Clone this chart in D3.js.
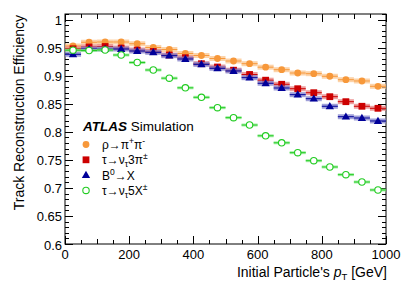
<!DOCTYPE html>
<html><head><meta charset="utf-8">
<script src="https://cdn.jsdelivr.net/npm/d3@7"></script>
<style>
html,body{margin:0;padding:0;background:#fff;}
svg text{font-family:"Liberation Sans",Arial,Helvetica,sans-serif;fill:#000;}
</style></head>
<body>
<svg id="c" width="407" height="292"></svg>
<script>
// bin centres (GeV), bin half-width 25 GeV
const binCenters = [25,75,125,175,225,275,325,375,425,475,525,575,625,675,725,775,825,875,925,975];
const rhoEff  = [0.953,0.9596,0.9601,0.9601,0.957,0.9503,0.9467,0.9396,0.936,0.9307,0.9262,0.9214,0.9152,0.9107,0.9048,0.9036,0.899,0.8929,0.8906,0.8811];
const tau3Eff = [0.948,0.9512,0.9521,0.9494,0.9458,0.9432,0.9369,0.9321,0.9214,0.9155,0.9098,0.9022,0.892,0.8847,0.8768,0.8697,0.8626,0.8537,0.8455,0.8419];
const b0Eff   = [0.9382,0.9476,0.9476,0.9476,0.944,0.9417,0.9357,0.9298,0.9203,0.9132,0.9084,0.8965,0.8865,0.8781,0.8662,0.859,0.8455,0.8269,0.8246,0.8193];
const tau5Eff = [0.9455,0.9449,0.9458,0.9369,0.9235,0.9102,0.8956,0.8784,0.8615,0.843,0.8252,0.8121,0.7929,0.7804,0.7628,0.7485,0.7373,0.7236,0.7105,0.6963];
const xTickLabels = ["0","200","400","600","800","1000"];
const yTickLabels = ["0.6","0.65","0.7","0.75","0.8","0.85","0.9","0.95","1"];

const svg = d3.select("#c");
const L=65, R=386, T=14, B=244;
const x = d3.scaleLinear().domain([0,1000]).range([L,R]);
const y = d3.scaleLinear().domain([0.6,1.01]).range([B,T]);

// frame
svg.append("rect").attr("x",L).attr("y",T).attr("width",R-L).attr("height",B-T)
  .attr("fill","none").attr("stroke","#000").attr("stroke-width",1);

const g = svg.append("g");
// x ticks (inward, top & bottom)
d3.range(0,1001,50).forEach(v=>{
  const major = v%200===0;
  const len = major?8:(v%100===0?5:4);
  const xp = Math.round(x(v))+0.5;
  g.append("line").attr("x1",xp).attr("x2",xp).attr("y1",B).attr("y2",B-len).attr("stroke","#000");
  g.append("line").attr("x1",xp).attr("x2",xp).attr("y1",T).attr("y2",T+len).attr("stroke","#000");
});
xTickLabels.forEach(s=>{
  svg.append("text").attr("x",x(+s)).attr("y",258.5).attr("text-anchor","middle")
    .attr("font-size",13).text(s);
});
// y ticks
d3.range(60,102,1).forEach(k=>{
  const v=k/100;
  const major = k%5===0;
  const len = major?8:4;
  const yp = Math.round(y(v))+0.5;
  g.append("line").attr("x1",L).attr("x2",L+len).attr("y1",yp).attr("y2",yp).attr("stroke","#000");
  g.append("line").attr("x1",R).attr("x2",R-len).attr("y1",yp).attr("y2",yp).attr("stroke","#000");
});
yTickLabels.forEach(s=>{
  svg.append("text").attr("x",62).attr("y",y(+s)+5.5).attr("text-anchor","end")
    .attr("font-size",13).text(s);
});

// axis titles
const xt = svg.append("text").attr("x",387).attr("y",276.5).attr("text-anchor","end").attr("font-size",14);
xt.append("tspan").text("Initial Particle's ");
xt.append("tspan").attr("font-style","italic").text("p");
xt.append("tspan").attr("font-size",9.5).attr("dy",3).text("T");
xt.append("tspan").attr("dy",-3).text(" [GeV]");

svg.append("text").attr("transform","translate(24,15) rotate(-90)").attr("text-anchor","end")
  .attr("font-size",14).text("Track Reconstruction Efficiency");

// series
const series = [
  {vals:rhoEff,  col:"#f7983a", band:"#fbc48c", shape:"circle"},
  {vals:tau3Eff, col:"#cc0000", band:"#e88080", shape:"square"},
  {vals:b0Eff,   col:"#000099", band:"#8080cc", shape:"triangle"},
  {vals:tau5Eff, col:"#22cc22", band:"#88e888", shape:"open"}
];
function marker(sel, shape, col, cx, cy){
  if(shape==="circle") sel.append("circle").attr("cx",cx).attr("cy",cy).attr("r",3.4).attr("fill",col);
  else if(shape==="square") sel.append("rect").attr("x",cx-3.4).attr("y",cy-3.4).attr("width",6.8).attr("height",6.8).attr("fill",col);
  else if(shape==="triangle") sel.append("path").attr("d",d3.symbol(d3.symbolTriangle,30)()).attr("transform",`translate(${cx},${cy+0.5})`).attr("fill",col);
  else sel.append("circle").attr("cx",cx).attr("cy",cy).attr("r",3.2).attr("fill","#fff").attr("stroke",col).attr("stroke-width",1.1);
}
series.forEach(s=>{
  const sg = svg.append("g");
  s.vals.forEach((v,i)=>{
    const c=binCenters[i];
    const h = s.shape==="open"?3:5;
    sg.append("rect").attr("x",x(c-25)).attr("y",y(v)-h/2).attr("width",x(c+25)-x(c-25)).attr("height",h)
      .attr("fill",s.band).attr("opacity",0.75);
    sg.append("line").attr("x1",x(c-25)).attr("x2",x(c+25)).attr("y1",y(v)).attr("y2",y(v))
      .attr("stroke",s.col).attr("stroke-width",1);
  });
  s.vals.forEach((v,i)=>marker(sg,s.shape,s.col,x(binCenters[i]),y(v)));
});

// legend
const lt = svg.append("text").attr("x",83).attr("y",131).attr("font-size",13.5);
lt.append("tspan").attr("font-weight","bold").attr("font-style","italic").text("ATLAS");
lt.append("tspan").text(" Simulation");

const legRows = [
  {shape:"circle", col:"#f7983a", parts:[["ρ→π",0],["+",1],["π",0],["-",1]]},
  {shape:"square", col:"#cc0000", parts:[["τ→ν",0],["τ",-1],["3π",0],["±",1]]},
  {shape:"triangle", col:"#000099", parts:[["B",0],["0",1],["→X",0]]},
  {shape:"open", col:"#22cc22", parts:[["τ→ν",0],["τ",-1],["5X",0],["±",1]]}
];
legRows.forEach((r,i)=>{
  const cy = 144.5 + i*15.3;
  marker(svg, r.shape, r.col, 86, cy);
  const t = svg.append("text").attr("x",102).attr("y",cy+4.5).attr("font-size",12);
  let cur=0;
  r.parts.forEach(([s,p])=>{
    const target = p===1?-5:(p===-1?3:0);
    const ts = t.append("tspan").attr("dy",target-cur).text(s);
    if(p!==0) ts.attr("font-size",8.5);
    cur=target;
  });
});
</script>
</body></html>
